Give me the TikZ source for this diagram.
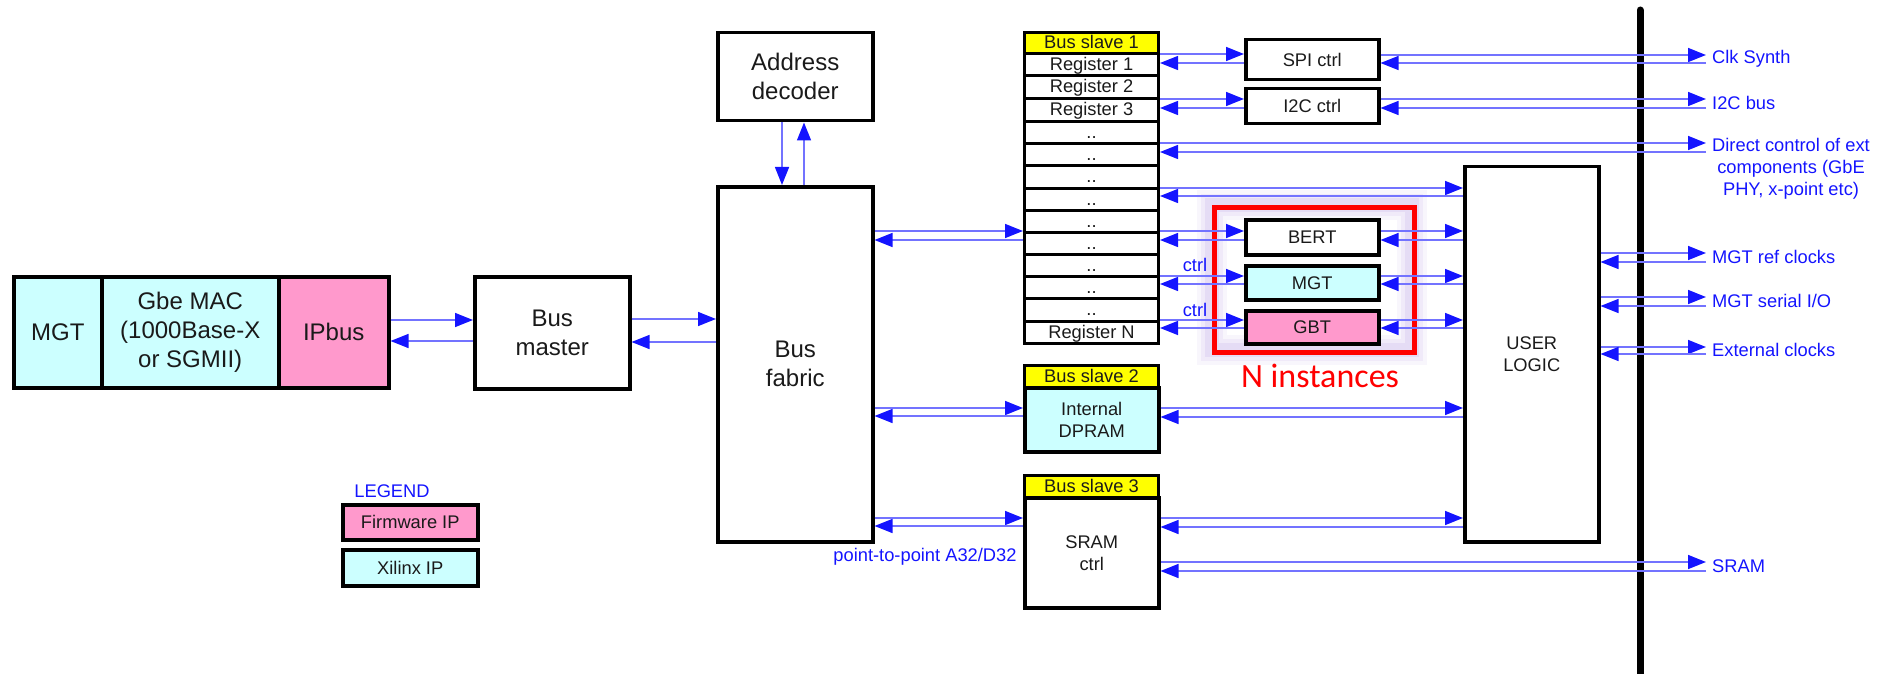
\documentclass[tikz,border=0pt]{standalone}
\usepackage{fontspec}
\setmainfont{Liberation Sans}
\newfontfamily\calibfont{Carlito}
\usetikzlibrary{arrows.meta}

\definecolor{xil}{HTML}{CCFFFF}
\definecolor{fw}{HTML}{FF99CC}
\definecolor{hdr}{HTML}{FFFF00}
\definecolor{sig}{RGB}{20,20,255}
\definecolor{wire}{RGB}{115,115,255}
\definecolor{ink}{HTML}{1A1A1A}
\definecolor{halo}{RGB}{140,100,210}

\newcommand\bigtxt{\fontsize{24}{29}\selectfont}
\newcommand\smltxt{\fontsize{18.3}{22}\selectfont}

% box from corner (x1,y1) to corner (x2,y2), y measured downwards
\newcommand\mkbox[7][]{%
  \node[blk,#1,minimum width={#5-#3},minimum height={#6-#4}] (#2) at (#3,#4) {#7};}
% pair of opposite arrows: rightwards at y=#3, leftwards at y=#4
\newcommand\lr[4]{%
  \draw[arr] (#1.east |- 0,#3) -- (#2.west |- 0,#3);
  \draw[arr] (#2.west |- 0,#4) -- (#1.east |- 0,#4);}

\begin{document}
\begin{tikzpicture}[x=1pt,y=-1pt,
  blk/.style={draw=black, line width=3.5pt, inner sep=0pt, text=ink,
    align=center, anchor=north west, font=\smltxt},
  big/.style={font=\bigtxt},
  row/.style={line width=3pt, text height=15pt, text depth=3pt},
  arr/.style={draw=wire, line width=1.5pt,
    -{Triangle[length=18pt,width=14pt,color=sig]}},
  lbl/.style={text=sig, font=\smltxt, inner sep=6pt, anchor=west, align=center},
  note/.style={text=sig, font=\smltxt, inner sep=0pt}]

\useasboundingbox (0,0) rectangle (1880,674);

% glow behind the instance frame
\foreach \w/\o in {30/0.06,22/0.08,14/0.1}
  \draw[halo, opacity=\o, line width=\w pt] (1212,205) rectangle (1412,350);

% left chain
\mkbox[fill=xil,big]{mgtL}{12}{275}{100}{386}{MGT}
\mkbox[fill=xil,big]{gbe}{100}{275}{277}{386}{Gbe MAC\\(1000Base-X\\or SGMII)}
\mkbox[fill=fw,big]{ipbus}{277}{275}{387}{386}{IPbus}
\mkbox[big]{master}{473}{275}{628}{387}{Bus\\master}
\mkbox[big]{decoder}{716}{31}{871}{119}{Address\\decoder}
\mkbox[big]{fabric}{716}{185}{871}{540}{Bus\\fabric}

% bus slave 1: register stack
\mkbox[row,fill=hdr]{bs1}{1023}{31}{1157}{52}{Bus slave 1}
\mkbox[row]{r1}{1023}{52}{1157}{74}{Register 1}
\mkbox[row]{r2}{1023}{74}{1157}{97}{Register 2}
\mkbox[row]{r3}{1023}{97}{1157}{120}{Register 3}
\mkbox[row]{d1}{1023}{120}{1157}{142.17}{..}
\mkbox[row]{d2}{1023}{142.17}{1157}{164.33}{..}
\mkbox[row]{d3}{1023}{164.33}{1157}{186.5}{..}
\mkbox[row]{d4}{1023}{186.5}{1157}{208.67}{..}
\mkbox[row]{d5}{1023}{208.67}{1157}{230.83}{..}
\mkbox[row]{d6}{1023}{230.83}{1157}{253}{..}
\mkbox[row]{d7}{1023}{253}{1157}{275.17}{..}
\mkbox[row]{d8}{1023}{275.17}{1157}{297.33}{..}
\mkbox[row]{d9}{1023}{297.33}{1157}{319.5}{..}
\mkbox[row]{rN}{1023}{319.5}{1157}{341.67}{Register N}

% bus slaves 2 and 3
\mkbox[row,fill=hdr]{bs2}{1023}{364}{1157}{386}{Bus slave 2}
\mkbox[fill=xil]{dpram}{1023}{386}{1157}{450}{Internal\\DPRAM}
\mkbox[row,fill=hdr]{bs3}{1023}{474}{1157}{496}{Bus slave 3}
\mkbox{sram}{1023}{496}{1157}{606}{SRAM\\ctrl}

% controllers and instantiated blocks
\mkbox{spi}{1244}{38}{1377}{78}{SPI ctrl}
\mkbox{i2c}{1244}{87}{1377}{122}{I2C ctrl}
\mkbox{bert}{1244}{218}{1377}{253}{BERT}
\mkbox[fill=xil]{mgtI}{1244}{264}{1377}{298}{MGT}
\mkbox[fill=fw]{gbt}{1244}{309}{1377}{342}{GBT}
\mkbox{user}{1463}{165}{1597}{540}{USER\\LOGIC}

% instance frame
\node[draw=red, line width=5pt, anchor=north west, minimum width=200,
  minimum height=145, inner sep=0pt] (inst) at (1212,205) {};
\node[text=red, font=\calibfont\fontsize{34}{40}\selectfont, inner sep=0pt]
  (ninst) at (1320,376) {N instances};

% legend
\node[note] (legend) at (392,491) {LEGEND};
\mkbox[fill=fw]{legfw}{341}{503}{476}{538}{Firmware IP}
\mkbox[fill=xil]{legxil}{341}{548}{476}{584}{Xilinx IP}

% board boundary
\draw[line width=7pt, line cap=round] (1640,10) -- (1640,674);

% external signal labels
\node[lbl] (clk) at (1706,59) {Clk Synth};
\node[lbl] (i2cbus) at (1706,103) {I2C bus};
\node[lbl] (direct) at (1706,169) {Direct control of ext\\components (GbE\\PHY, x-point etc)};
\node[lbl] (refclk) at (1706,257) {MGT ref clocks};
\node[lbl] (serio) at (1706,301) {MGT serial I/O};
\node[lbl] (extclk) at (1706,350) {External clocks};
\node[lbl] (sramext) at (1706,566) {SRAM};

\node[note] (ctrlA) at (1195,265) {ctrl};
\node[note] (ctrlB) at (1195,310) {ctrl};
\node[note] (p2p) at (925,557) {point-to-point A32/D32};

% connectors
\lr{ipbus}{master}{320}{341}
\lr{master}{fabric}{319}{342}
\draw[arr] (decoder.south -| 782,0) -- (fabric.north -| 782,0);
\draw[arr] (fabric.north -| 804,0) -- (decoder.south -| 804,0);

\lr{fabric}{d5}{231}{240}
\lr{fabric}{dpram}{408}{416}
\lr{fabric}{sram}{518}{526}

\lr{r1}{spi}{54}{63}
\lr{spi}{clk}{55}{63}
\lr{r3}{i2c}{99}{108}
\lr{i2c}{i2cbus}{99}{108}
\lr{d1}{direct}{143}{152}
\lr{d3}{user}{188}{196}
\lr{d6}{bert}{231}{240}
\lr{bert}{user}{231}{240}
\lr{d8}{mgtI}{276}{284}
\lr{mgtI}{user}{276}{284}
\lr{rN}{gbt}{320}{328}
\lr{gbt}{user}{320}{328}
\lr{dpram}{user}{408}{417}
\lr{sram}{user}{518}{527}
\lr{sram}{sramext}{562}{571}

\lr{user}{refclk}{253}{262}
\lr{user}{serio}{297}{306}
\lr{user}{extclk}{347}{354}
\end{tikzpicture}
\end{document}
